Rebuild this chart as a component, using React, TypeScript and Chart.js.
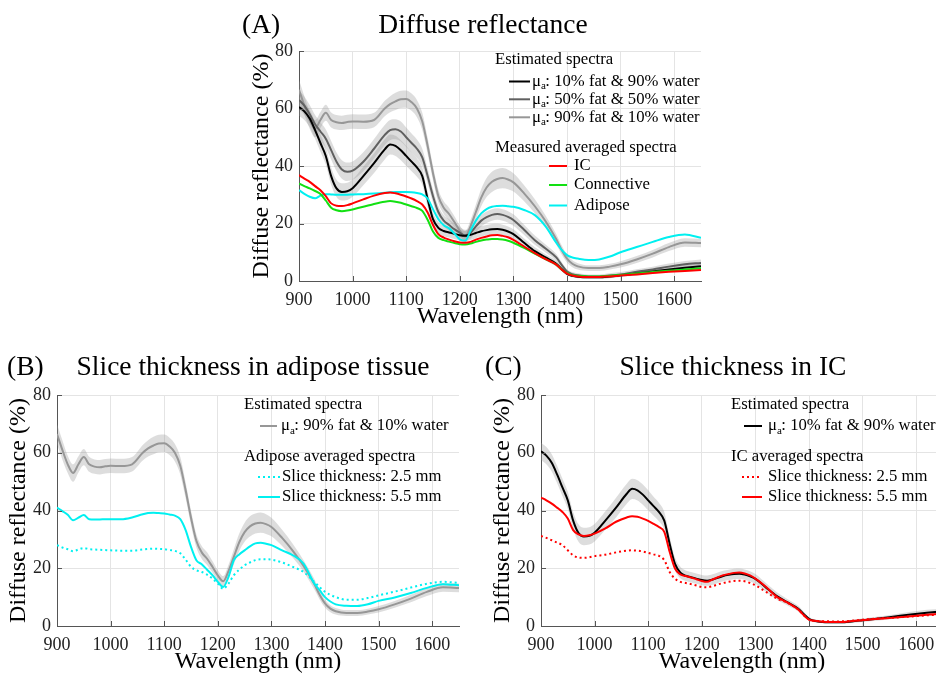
import React, { useEffect, useRef } from "react";
import { Chart, registerables } from "chart.js";

Chart.register(...registerables);

const SERIF = '"Liberation Serif", "Times New Roman", Times, serif';

// ---------- data ----------
const WAVELENGTH = [
  900, 910, 920, 930, 940, 950, 960, 970, 980, 990, 1000,
  1020, 1040, 1060,
  1070, 1080, 1090, 1100, 1110, 1120, 1130, 1140, 1150, 1160, 1170, 1180,
  1190, 1200, 1210, 1220, 1230, 1240, 1250, 1260, 1270, 1280, 1290, 1300,
  1320, 1340, 1360, 1380,
  1390, 1400, 1410, 1420,
  1440, 1460, 1480, 1500,
  1530, 1560, 1590, 1620, 1650,
];
const X_TICKS = [900, 1000, 1100, 1200, 1300, 1400, 1500, 1600];
const Y_TICKS = [0, 20, 40, 60, 80];

// estimated spectra (mu_a mixes)
const FAT10_WATER90 = [
  60.5, 59, 56.5, 52.5, 48, 43.5, 36.5, 32.2, 31, 31.2, 32.3,
  36.5, 41, 45.8,
  47.5, 47, 45.5, 43.5, 41.5, 39.5, 36.5, 28.5, 21.5, 18.5, 17.4, 16.9,
  16.4, 15.9, 15.7, 16.1, 16.7, 17.3, 17.7, 18, 18.1, 17.8, 17.2, 16.3,
  13.3, 10.4, 8.2, 6,
  4.2, 2.5, 1.8, 1.5,
  1.3, 1.3, 1.6, 2,
  2.6, 3.3, 4, 4.6, 5.1,
];
const FAT10_STD = [
  3, 3, 3, 3, 3, 3, 3, 3, 3, 3, 3,
  3.2, 3.4, 3.5,
  3.5, 3.5, 3.5, 3.5, 3.3, 3.2, 3, 2.6, 2.2, 2, 1.8, 1.8,
  1.8, 1.8, 1.8, 1.8, 1.8, 1.8, 1.8, 1.8, 1.8, 1.8, 1.8, 1.7,
  1.5, 1.3, 1.1, 1,
  0.8, 0.6, 0.5, 0.5,
  0.5, 0.5, 0.6, 0.6,
  0.7, 0.8, 0.9, 1, 1,
];
const FAT50_WATER50 = [
  63, 61, 58, 54.5, 52, 49.5, 45.5, 41.5, 38.8, 38, 38.4,
  41.5, 46, 50.8,
  52.5, 52.8, 52, 50, 48, 46, 43, 36.5, 29.5, 24, 21, 19.5,
  18, 16.8, 15.8, 16.8, 19, 21, 22.2, 23, 23.3, 23, 22.3, 21.2,
  17.8, 14.2, 11.3, 8.2,
  5.6, 3.3, 2.4, 2,
  1.6, 1.6, 1.9, 2.3,
  3.2, 4, 5, 5.8, 6.3,
];
const FAT50_STD = [
  3.2, 3.2, 3.2, 3.2, 3.2, 3.2, 3.2, 3.2, 3.2, 3.2, 3.2,
  3.3, 3.4, 3.5,
  3.5, 3.5, 3.5, 3.4, 3.3, 3.2, 3, 2.6, 2.3, 2.1, 2, 2,
  2, 2, 2, 2, 2, 2, 2, 2, 2, 2, 2, 2,
  1.8, 1.6, 1.4, 1.2,
  1, 0.8, 0.7, 0.7,
  0.7, 0.7, 0.8, 0.8,
  0.9, 1, 1.1, 1.2, 1.2,
];
const FAT90_WATER10 = [
  66.5, 61, 56, 53, 56, 58.5, 56, 55.2, 55, 55.3, 55.5,
  55.4, 56, 60,
  61.5, 62.5, 63.2, 63.3, 62.2, 60, 55.5, 47, 37.5, 29.5, 25.5, 23.3,
  20.5, 17.5, 15.5, 19, 24, 29, 32.5, 34.5, 35.5, 35.8, 35.3, 34.3,
  30.5, 26, 20.8, 14.5,
  10.8, 7.8, 6, 5.1,
  4.5, 4.5, 5, 5.8,
  7.5, 9.5, 11.8, 13.4, 13.2,
];
const FAT90_STD = [
  3.5, 3.3, 3, 3, 2.8, 2.8, 2.6, 2.5, 2.5, 2.5, 2.5,
  2.5, 2.5, 2.7,
  2.8, 3, 3, 3, 3, 3, 3, 2.8, 2.5, 2.3, 2.2, 2.2,
  2, 1.8, 1.8, 2.2, 2.6, 3, 3.3, 3.5, 3.5, 3.5, 3.4, 3.2,
  2.8, 2.4, 2, 1.8,
  1.6, 1.4, 1.2, 1.1,
  1, 1, 1, 1.1,
  1.2, 1.3, 1.4, 1.5, 1.5,
];

// measured averaged spectra
const IC = [
  36.8, 35.6, 34.5, 33, 31.6, 29.5, 27, 26.2, 26.1, 26.4, 27,
  28.4, 29.7, 30.6,
  30.8, 30.5, 30, 29.4, 28.7, 27.8, 26.6, 23.8, 19.5, 16.3, 15.1, 14.4,
  13.8, 13.4, 13.3, 13.6, 14.4, 15, 15.5, 15.9, 16, 15.7, 15.2, 14.3,
  12, 9.7, 7.6, 5.7,
  4, 2.6, 1.9, 1.6,
  1.4, 1.4, 1.6, 1.9,
  2.3, 2.8, 3.2, 3.5, 3.8,
];
const CONNECTIVE = [
  33.9, 33, 32.2, 31.3, 30.3, 28, 25.5, 24.6, 24.3, 24.5, 24.9,
  25.8, 26.8, 27.6,
  27.8, 27.6, 27.2, 26.6, 26, 25.4, 24.4, 21.3, 17.2, 15, 14.2, 13.7,
  13.2, 12.8, 12.7, 13, 13.6, 14.1, 14.4, 14.6, 14.6, 14.4, 14, 13.3,
  11.5, 9.5, 7.6, 5.7,
  4, 2.7, 2, 1.8,
  1.6, 1.6, 1.8, 2.1,
  2.6, 3.1, 3.6, 4, 4.4,
];
const ADIPOSE = [
  31.6, 30.3, 29.3, 28.8, 29.7, 30.2, 30.1, 30, 30, 30, 30.1,
  30.2, 30.4, 30.7,
  30.9, 31, 31, 31, 30.9, 30.6, 30.1, 28.7, 25, 21.5, 19.4, 18.3,
  16.5, 14.5, 14, 17.5, 21, 23.5, 25, 25.8, 26.1, 26.2, 26, 25.8,
  24.7, 22.9, 19, 13.3,
  10.8, 9, 8.2, 7.8,
  7.3, 7.5, 8.5, 10,
  11.8, 13.6, 15.3, 16.2, 15,
];

// slice thickness series
const ADIPOSE_2_5MM = [
  28, 27.2, 26.6, 25.9, 26.5, 27, 26.6, 26.5, 26.4, 26.3, 26.2,
  26.1, 26.1, 26.5,
  26.7, 26.8, 26.7, 26.6, 26.3, 26, 25.2, 23, 20.5, 19.3, 18.7, 17.8,
  16.4, 14.7, 12.9, 14.7, 17.6, 19.5, 21, 22, 22.8, 23.1, 23.1, 23,
  22, 20.5, 18.7, 15.3,
  13.5, 11.8, 10.8, 10,
  9.1, 9.1, 9.7, 10.6,
  11.9, 13.3, 14.6, 15.3, 14.9,
];
const ADIPOSE_5_5MM = [
  41, 39.8, 38.5, 36.6, 37.5, 38.4, 37, 36.9, 36.9, 37, 37,
  37, 37.6, 38.7,
  39.1, 39.2, 39.1, 39, 38.6, 38.2, 37, 33.2, 27.4, 22.8, 21.4, 19.5,
  17.6, 15.3, 13.5, 17, 22.8, 24.8, 26.2, 27.6, 28.6, 28.8, 28.5, 28,
  26.2, 24.5, 21.6, 14.7,
  12.4, 10, 8.5, 7.5,
  7, 6.9, 7.5, 8.7,
  9.9, 11.4, 13.2, 14.5, 14.1,
];
const IC_2_5MM = [
  31.2, 30.5, 29.7, 28.9, 28, 26.2, 24.5, 23.7, 23.6, 23.8, 24.2,
  24.7, 25.5, 26.1,
  26.2, 26.1, 25.8, 25.3, 24.8, 24.3, 22.8, 18.7, 16.4, 15.3, 14.9, 14.5,
  14, 13.5, 13.4, 13.8, 14.4, 14.9, 15.3, 15.6, 15.7, 15.5, 14.9, 14.1,
  11.8, 9.5, 8, 5.7,
  3.8, 2.2, 1.8, 1.7,
  1.6, 1.6, 1.8, 2.2,
  2.6, 2.9, 3.3, 3.7, 4,
];
const IC_5_5MM = [
  44.5, 43.5, 42.4, 41, 39.5, 37.2, 33.2, 31.7, 31.2, 31.4, 32,
  33.8, 36.1, 37.6,
  38, 37.8, 37.2, 36.4, 35.4, 34.3, 32.6, 25.7, 19.9, 17.9, 17.3, 16.8,
  16.2, 15.6, 15.3, 16.1, 16.9, 17.6, 18, 18.4, 18.5, 18.2, 17.5, 16.4,
  13.5, 10.1, 8.1, 5.7,
  3.8, 2.2, 1.8, 1.6,
  1.4, 1.4, 1.7, 2,
  2.5, 2.9, 3.4, 3.9, 4.3,
];

// ---------- styles ----------
const C_BLACK = "#000000";
const C_DGREY = "#606060";
const C_LGREY = "#979797";
const C_RED = "#ff0000";
const C_GREEN = "#12e012";
const C_CYAN = "#00f0f0";
const C_BAND = "rgba(150,150,150,0.32)";
const C_AXIS = "#555555";
const C_GRID = "#e4e4e4";
const DOT = [2, 3];

type Pt = { x: number; y: number };
const pts = (vals: number[]): Pt[] => WAVELENGTH.map((x, i) => ({ x, y: vals[i] }));
const shifted = (vals: number[], std: number[], s: number): Pt[] =>
  WAVELENGTH.map((x, i) => ({ x, y: vals[i] + s * std[i] }));

function lineDS(label: string, vals: number[], color: string, order: number, dash?: number[]) {
  return {
    label,
    data: pts(vals),
    borderColor: color,
    backgroundColor: color,
    borderWidth: 2,
    borderDash: dash || [],
    pointRadius: 0,
    fill: false,
    cubicInterpolationMode: "monotone",
    order,
  };
}
function bandDS(vals: number[], std: number[], order: number) {
  return [
    {
      label: "band+",
      data: shifted(vals, std, 1),
      borderColor: "rgba(0,0,0,0)",
      borderWidth: 0,
      backgroundColor: C_BAND,
      pointRadius: 0,
      fill: "+1",
      cubicInterpolationMode: "monotone",
      order,
    },
    {
      label: "band-",
      data: shifted(vals, std, -1),
      borderColor: "rgba(0,0,0,0)",
      borderWidth: 0,
      backgroundColor: "rgba(0,0,0,0)",
      pointRadius: 0,
      fill: false,
      cubicInterpolationMode: "monotone",
      order,
    },
  ];
}

type Header = { text: string; x: number; y: number };
type Entry = {
  color: string;
  dash?: number[];
  x1: number;
  x2: number;
  y: number;
  tx: number;
  mu?: boolean;
  text: string;
};
type Spec = {
  key: string;
  tag: string;
  tagX: number;
  title: string;
  titleX: number;
  titleY: number;
  headers: Header[];
  entries: Entry[];
};

function overlay(spec: Spec) {
  return {
    id: "overlay" + spec.key,
    afterDraw(chart: any) {
      const ctx: CanvasRenderingContext2D = chart.ctx;
      const { left, bottom } = chart.chartArea;
      const xs = chart.scales.x;
      const ys = chart.scales.y;
      ctx.save();
      // inward tick marks
      ctx.strokeStyle = C_AXIS;
      ctx.lineWidth = 1;
      ctx.beginPath();
      X_TICKS.forEach((v) => {
        const px = Math.round(xs.getPixelForValue(v)) + 0.5;
        ctx.moveTo(px, bottom);
        ctx.lineTo(px, bottom - 5);
      });
      Y_TICKS.forEach((v) => {
        const py = Math.round(ys.getPixelForValue(v)) + 0.5;
        ctx.moveTo(left, py);
        ctx.lineTo(left + 5, py);
      });
      ctx.stroke();
      // titles
      ctx.fillStyle = "#000";
      ctx.font = `27.5px ${SERIF}`;
      ctx.textBaseline = "alphabetic";
      ctx.textAlign = "left";
      ctx.fillText(spec.tag, spec.tagX, spec.titleY);
      ctx.textAlign = "center";
      ctx.fillText(spec.title, spec.titleX, spec.titleY);
      // legend
      ctx.textAlign = "left";
      ctx.textBaseline = "middle";
      const LF = `16.7px ${SERIF}`;
      spec.headers.forEach((h) => {
        ctx.font = LF;
        ctx.fillText(h.text, h.x, h.y);
      });
      spec.entries.forEach((e) => {
        ctx.beginPath();
        ctx.setLineDash(e.dash || []);
        ctx.strokeStyle = e.color;
        ctx.lineWidth = 2;
        ctx.moveTo(e.x1, e.y);
        ctx.lineTo(e.x2, e.y);
        ctx.stroke();
        ctx.setLineDash([]);
        let x = e.tx;
        ctx.font = LF;
        if (e.mu) {
          ctx.fillText("\u03BC", x, e.y);
          x += ctx.measureText("\u03BC").width;
          ctx.font = `11px ${SERIF}`;
          ctx.fillText("a", x, e.y + 5);
          x += ctx.measureText("a").width - 0.5;
          ctx.font = LF;
        }
        ctx.fillText(e.text, x, e.y);
      });
      ctx.restore();
    },
  };
}

function makeChart(
  canvas: HTMLCanvasElement,
  datasets: any[],
  padding: { left: number; top: number; right: number; bottom: number },
  yWidth: number,
  xHeight: number,
  spec: Spec
) {
  return new Chart(canvas, {
    type: "line",
    data: { datasets },
    options: {
      responsive: false,
      animation: false,
      events: [],
      layout: { padding },
      plugins: {
        legend: { display: false },
        tooltip: { enabled: false },
        title: { display: false },
      },
      scales: {
        x: {
          type: "linear",
          min: 900,
          max: 1650,
          afterBuildTicks: (s: any) => {
            s.ticks = X_TICKS.map((value) => ({ value }));
          },
          afterFit: (s: any) => {
            s.height = xHeight;
          },
          grid: { color: C_GRID, lineWidth: 1, drawTicks: false },
          border: { display: true, color: C_AXIS, width: 1 },
          ticks: {
            font: { family: SERIF, size: 18 },
            color: "#222",
            padding: 8,
            maxRotation: 0,
            autoSkip: false,
            callback: (v: any) => String(v),
          },
          title: {
            display: true,
            text: "Wavelength (nm)",
            font: { family: SERIF, size: 24 },
            color: "#000",
            padding: 0,
          },
        },
        y: {
          type: "linear",
          min: 0,
          max: 80,
          afterBuildTicks: (s: any) => {
            s.ticks = Y_TICKS.map((value) => ({ value }));
          },
          afterFit: (s: any) => {
            s.width = yWidth;
          },
          grid: { color: C_GRID, lineWidth: 1, drawTicks: false },
          border: { display: true, color: C_AXIS, width: 1 },
          ticks: {
            font: { family: SERIF, size: 18 },
            color: "#222",
            padding: 6,
            autoSkip: false,
            callback: (v: any) => String(v),
          },
          title: {
            display: true,
            text: "Diffuse reflectance (%)",
            font: { family: SERIF, size: 24 },
            color: "#000",
            padding: 0,
          },
        },
      },
    } as any,
    plugins: [overlay(spec)],
  });
}

export default function App() {
  const refA = useRef<HTMLCanvasElement>(null);
  const refB = useRef<HTMLCanvasElement>(null);
  const refC = useRef<HTMLCanvasElement>(null);

  useEffect(() => {
    const charts: Chart[] = [];

    // Panel A
    const dsA = [
      ...bandDS(FAT90_WATER10, FAT90_STD, 12),
      ...bandDS(FAT50_WATER50, FAT50_STD, 11),
      ...bandDS(FAT10_WATER90, FAT10_STD, 10),
      lineDS("90% fat & 10% water", FAT90_WATER10, C_LGREY, 6),
      lineDS("50% fat & 50% water", FAT50_WATER50, C_DGREY, 5),
      lineDS("10% fat & 90% water", FAT10_WATER90, C_BLACK, 4),
      lineDS("Adipose", ADIPOSE, C_CYAN, 3),
      lineDS("Connective", CONNECTIVE, C_GREEN, 2),
      lineDS("IC", IC, C_RED, 1),
    ];
    charts.push(
      makeChart(refA.current!, dsA, { left: 247, top: 51, right: 235, bottom: 345 }, 52, 50, {
        key: "A",
        tag: "(A)",
        tagX: 242,
        title: "Diffuse reflectance",
        titleX: 483,
        titleY: 33,
        headers: [
          { text: "Estimated spectra", x: 495, y: 59.5 },
          { text: "Measured averaged spectra", x: 495, y: 147.5 },
        ],
        entries: [
          { color: C_BLACK, x1: 509, x2: 530, y: 81.5, tx: 532, mu: true, text: ": 10% fat & 90% water" },
          { color: C_DGREY, x1: 509, x2: 530, y: 99.3, tx: 532, mu: true, text: ": 50% fat & 50% water" },
          { color: C_LGREY, x1: 509, x2: 530, y: 117.3, tx: 532, mu: true, text: ": 90% fat & 10% water" },
          { color: C_RED, x1: 549, x2: 567, y: 166, tx: 574, text: "IC" },
          { color: C_GREEN, x1: 549, x2: 567, y: 185, tx: 574, text: "Connective" },
          { color: C_CYAN, x1: 549, x2: 567, y: 205.5, tx: 574, text: "Adipose" },
        ],
      })
    );

    // Panel B
    const dsB = [
      ...bandDS(FAT90_WATER10, FAT90_STD, 10),
      lineDS("90% fat & 10% water", FAT90_WATER10, C_LGREY, 3),
      lineDS("Slice thickness: 2.5 mm", ADIPOSE_2_5MM, C_CYAN, 2, DOT),
      lineDS("Slice thickness: 5.5 mm", ADIPOSE_5_5MM, C_CYAN, 1),
    ];
    charts.push(
      makeChart(refB.current!, dsB, { left: 4, top: 395, right: 477, bottom: 0 }, 53, 50, {
        key: "B",
        tag: "(B)",
        tagX: 7,
        title: "Slice thickness in adipose tissue",
        titleX: 253,
        titleY: 375,
        headers: [
          { text: "Estimated spectra", x: 244, y: 404.5 },
          { text: "Adipose averaged spectra", x: 244, y: 456.5 },
        ],
        entries: [
          { color: C_LGREY, x1: 260, x2: 277, y: 426, tx: 281, mu: true, text: ": 90% fat & 10% water" },
          { color: C_CYAN, dash: DOT, x1: 258, x2: 280, y: 477, tx: 282, text: "Slice thickness: 2.5 mm" },
          { color: C_CYAN, x1: 258, x2: 280, y: 497, tx: 282, text: "Slice thickness: 5.5 mm" },
        ],
      })
    );

    // Panel C
    const dsC = [
      ...bandDS(FAT10_WATER90, FAT10_STD, 10),
      lineDS("10% fat & 90% water", FAT10_WATER90, C_BLACK, 3),
      lineDS("Slice thickness: 2.5 mm", IC_2_5MM, C_RED, 2, DOT),
      lineDS("Slice thickness: 5.5 mm", IC_5_5MM, C_RED, 1),
    ];
    charts.push(
      makeChart(refC.current!, dsC, { left: 488, top: 395, right: 17, bottom: 0 }, 53, 50, {
        key: "C",
        tag: "(C)",
        tagX: 485,
        title: "Slice thickness in IC",
        titleX: 733,
        titleY: 375,
        headers: [
          { text: "Estimated spectra", x: 731, y: 404.5 },
          { text: "IC averaged spectra", x: 731, y: 456.5 },
        ],
        entries: [
          { color: C_BLACK, x1: 744, x2: 762, y: 426, tx: 768, mu: true, text: ": 10% fat & 90% water" },
          { color: C_RED, dash: DOT, x1: 742, x2: 762, y: 477, tx: 768, text: "Slice thickness: 2.5 mm" },
          { color: C_RED, x1: 742, x2: 762, y: 497, tx: 768, text: "Slice thickness: 5.5 mm" },
        ],
      })
    );

    return () => charts.forEach((c) => c.destroy());
  }, []);

  const cs: React.CSSProperties = { position: "absolute", left: 0, top: 0 };
  return (
    <div
      style={{
        position: "fixed",
        left: 0,
        top: 0,
        width: 936,
        height: 676,
        overflow: "hidden",
        background: "#ffffff",
      }}
    >
      <canvas ref={refA} width={936} height={676} style={{ ...cs, width: 936, height: 676 }} />
      <canvas ref={refB} width={936} height={676} style={{ ...cs, width: 936, height: 676 }} />
      <canvas ref={refC} width={960} height={676} style={{ ...cs, width: 960, height: 676 }} />
    </div>
  );
}
